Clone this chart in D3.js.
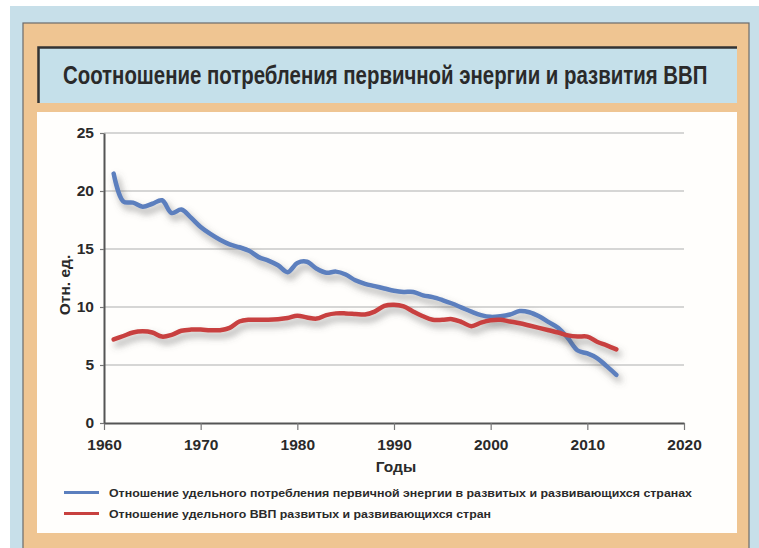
<!DOCTYPE html>
<html>
<head>
<meta charset="utf-8">
<script src="https://cdn.jsdelivr.net/npm/d3@7"></script>
<style>
  body { margin: 0; background: #fff; }
  svg { display: block; }
</style>
</head>
<body>
<svg id="chart" width="759" height="548"></svg>
<script>
// years 1961..2013
var years = d3.range(1961, 2014);
// energy consumption ratio (blue)
var energyRatio = [21.5, 19.1, 19.0, 18.65, 18.9, 19.2, 18.1, 18.4, 17.7, 16.9,
  16.3, 15.8, 15.4, 15.15, 14.85, 14.3, 14.0, 13.6, 13.0, 13.8,
  13.9, 13.3, 12.95, 13.05, 12.8, 12.3, 12.0, 11.8, 11.6, 11.4,
  11.3, 11.3, 11.0, 10.85, 10.6, 10.3, 9.95, 9.6, 9.3, 9.15,
  9.2, 9.35, 9.65, 9.55, 9.2, 8.7, 8.2, 7.3, 6.25, 6.0,
  5.6, 4.9, 4.15];
// GDP ratio (red)
var gdpRatio = [7.2, 7.5, 7.8, 7.9, 7.8, 7.45, 7.6, 7.95, 8.05, 8.05,
  8.0, 8.0, 8.2, 8.75, 8.9, 8.9, 8.9, 8.95, 9.05, 9.25,
  9.1, 9.0, 9.3, 9.45, 9.45, 9.4, 9.35, 9.6, 10.1, 10.2,
  10.05, 9.6, 9.2, 8.9, 8.9, 8.95, 8.7, 8.35, 8.65, 8.85,
  8.9, 8.75, 8.6, 8.4, 8.2, 8.0, 7.8, 7.55, 7.45, 7.45,
  7.0, 6.7, 6.35];
var xTicks = [1960, 1970, 1980, 1990, 2000, 2010, 2020];
var yTicks = [0, 5, 10, 15, 20, 25];
var seriesNames = [
  "Отношение удельного потребления первичной энергии в развитых и развивающихся странах",
  "Отношение удельного ВВП развитых и развивающихся стран"
];
var seriesColors = ["#5b7fbe", "#c8413f"];

var svg = d3.select("#chart");
var font = "'Liberation Sans', Arial, sans-serif";

// frame
svg.append("rect").attr("x", 10).attr("y", 6).attr("width", 749).attr("height", 542).attr("fill", "#c7dfe9");
svg.append("rect").attr("x", 23).attr("y", 23).attr("width", 726).attr("height", 530)
  .attr("fill", "#efc592").attr("stroke", "#6b6b6b").attr("stroke-width", 1.2);
svg.append("rect").attr("x", 38).attr("y", 47).attr("width", 699).attr("height", 56).attr("fill", "#c5e0ea");
svg.append("path").attr("d", "M38.5,103V47.5H737").attr("fill", "none").attr("stroke", "#333").attr("stroke-width", 2.5);
svg.append("rect").attr("x", 37).attr("y", 112).attr("width", 700).attr("height", 421).attr("fill", "#fffefc");

// title, squeezed horizontally to look condensed
var titleG = svg.append("g");
var title = titleG.append("text")
  .attr("x", 0).attr("y", 0)
  .style("font-family", font)
  .style("font-size", "25px")
  .style("font-weight", "bold")
  .attr("fill", "#2a2a2a")
  .text("Соотношение потребления первичной энергии и развития ВВП");
var tw = title.node().getComputedTextLength();
titleG.attr("transform", "translate(63,84) scale(" + (645 / tw) + ",1)");

// shadow filter
var defs = svg.append("defs");
var f = defs.append("filter").attr("id", "shadow").attr("x", "-10%").attr("y", "-10%").attr("width", "130%").attr("height", "140%");
f.append("feDropShadow").attr("dx", 3).attr("dy", 5).attr("stdDeviation", 3.5)
  .attr("flood-color", "#555").attr("flood-opacity", 0.55);

var x = d3.scaleLinear().domain([1960, 2020]).range([104, 684]);
var y = d3.scaleLinear().domain([0, 25]).range([423, 133]);

// grid
svg.append("g")
  .selectAll("line")
  .data(yTicks.filter(d => d > 0))
  .enter()
  .append("line")
  .attr("x1", x(1960)).attr("x2", x(2020))
  .attr("y1", d => y(d)).attr("y2", d => y(d))
  .attr("stroke", "#c9c9c9").attr("stroke-width", 1.5);

var xAxis = svg.append("g")
  .attr("transform", "translate(0," + y(0) + ")")
  .call(d3.axisBottom(x).tickValues(xTicks).tickFormat(d3.format("d")).tickSize(7).tickSizeOuter(0).tickPadding(9));
var yAxis = svg.append("g")
  .attr("transform", "translate(" + x(1960) + ",0)")
  .call(d3.axisLeft(y).tickValues(yTicks).tickSize(4).tickSizeOuter(0).tickPadding(6));

[xAxis, yAxis].forEach(function (g) {
  g.select(".domain").attr("stroke", "#555").attr("stroke-width", 2);
  g.selectAll(".tick line").attr("stroke", "#777").attr("stroke-width", 1.2);
  g.selectAll(".tick text")
    .style("font-family", font).style("font-size", "15.5px").style("font-weight", "bold")
    .attr("fill", "#2a2a2a");
});

svg.append("text")
  .attr("transform", "translate(70,285) rotate(-90)")
  .attr("text-anchor", "middle")
  .style("font-family", font).style("font-size", "15.5px").style("font-weight", "bold")
  .attr("fill", "#2a2a2a")
  .text("Отн. ед.");

svg.append("text")
  .attr("x", 396).attr("y", 472)
  .attr("text-anchor", "middle")
  .style("font-family", font).style("font-size", "15.5px").style("font-weight", "bold")
  .attr("fill", "#2a2a2a")
  .text("Годы");

// lines
var line = d3.line()
  .x(d => x(d[0]))
  .y(d => y(d[1]))
  .curve(d3.curveCatmullRom.alpha(0.5));

[energyRatio, gdpRatio].forEach(function (vals, i) {
  svg.append("path")
    .datum(years.map((yr, k) => [yr, vals[k]]))
    .attr("d", line)
    .attr("fill", "none")
    .attr("stroke", seriesColors[i])
    .attr("stroke-width", 4.5)
    .attr("stroke-linejoin", "round")
    .attr("stroke-linecap", "round")
    .attr("filter", "url(#shadow)");
});

// legend
var legendLens = [583, 382];
var legend = svg.append("g");
seriesNames.forEach(function (name, i) {
  var ly = 492.5 + i * 21;
  legend.append("line")
    .attr("x1", 64).attr("x2", 99).attr("y1", ly).attr("y2", ly)
    .attr("stroke", seriesColors[i]).attr("stroke-width", 3);
  legend.append("text")
    .attr("x", 109).attr("y", ly + 4)
    .attr("textLength", legendLens[i]).attr("lengthAdjust", "spacingAndGlyphs")
    .style("font-family", font).style("font-size", "11px").style("font-weight", "bold")
    .attr("fill", "#2a2a2a")
    .text(name);
});
</script>
</body>
</html>
